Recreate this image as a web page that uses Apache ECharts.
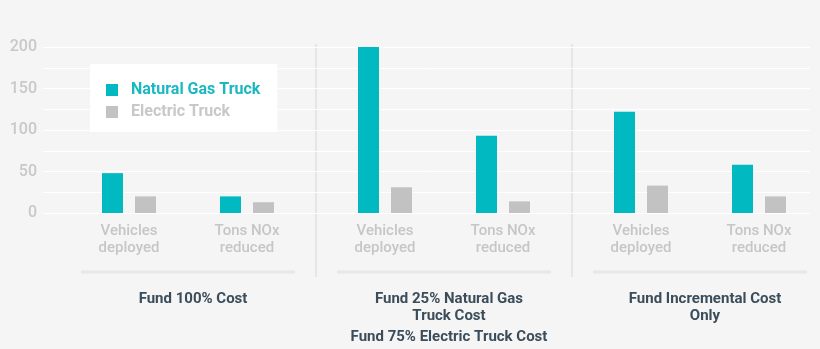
<!DOCTYPE html>
<html>
<head>
<meta charset="utf-8">
<script src="https://cdn.jsdelivr.net/npm/echarts@6/dist/echarts.min.js"></script>
<style>html,body{margin:0;padding:0;background:#f5f5f5;}#c{width:820px;height:349px;}</style>
</head>
<body>
<div id="c"></div>
<script>
var categories = ['Vehicles\ndeployed', 'Tons NOx\nreduced'];
var groupTitles = ['Fund 100% Cost', 'Fund 25% Natural Gas\nTruck Cost', 'Fund Incremental Cost\nOnly'];
var groupSubtitles = ['', 'Fund 75% Electric Truck Cost', ''];
var seriesNames = ['Natural Gas Truck', 'Electric Truck'];
var naturalGas = [[48, 20], [200, 93], [122, 58]];
var electric = [[20, 13], [31, 14], [33, 20]];
var yTicks = [0, 50, 100, 150, 200];

var FONT = 'Roboto, "Noto Sans", sans-serif';
var TEAL = '#00b9c1', GREY = '#c2c2c2';
var gridTop = 47, gridBottom = 136;
var groupLefts = [70, 326, 582], groupW = 236;

var grids = [{left: 43, right: 10, top: gridTop, bottom: gridBottom}];
var xAxes = [{gridIndex: 0, type: 'category', data: ['a'], show: false}];
var yAxes = [{
  gridIndex: 0, type: 'value', min: 0, max: 200, interval: 25,
  axisLine: {show: false}, axisTick: {show: false},
  splitLine: {lineStyle: {color: '#ffffff', width: 1}},
  axisLabel: {
    margin: 6, color: '#c8c8c8', fontSize: 16, fontWeight: 500, fontFamily: FONT,
    formatter: function (v) { return yTicks.indexOf(v) >= 0 ? String(v) : ''; }
  }
}];
var series = [];
var titles = [];
for (var g = 0; g < 3; g++) {
  var gi = g + 1;
  grids.push({left: groupLefts[g], width: groupW, top: gridTop, bottom: gridBottom});
  xAxes.push({
    gridIndex: gi, type: 'category', data: categories,
    axisLine: {show: false}, axisTick: {show: false}, splitLine: {show: false},
    axisLabel: {margin: 10, color: '#c6c6c6', fontSize: 15, fontWeight: 500, lineHeight: 17, fontFamily: FONT}
  });
  yAxes.push({gridIndex: gi, type: 'value', min: 0, max: 200, interval: 25, show: false, splitLine: {show: false}});
  series.push({
    name: seriesNames[0], type: 'bar', xAxisIndex: gi, yAxisIndex: gi,
    data: naturalGas[g], barWidth: 21, barGap: '57%',
    itemStyle: {color: TEAL}
  });
  series.push({
    name: seriesNames[1], type: 'bar', xAxisIndex: gi, yAxisIndex: gi,
    data: electric[g], barWidth: 21, barGap: '57%',
    itemStyle: {color: GREY}
  });
  titles.push({
    text: groupTitles[g], subtext: groupSubtitles[g],
    left: groupLefts[g] + groupW / 2, top: 286, textAlign: 'center', itemGap: 4,
    textStyle: {color: '#3b4d5a', fontSize: 15, fontWeight: 'bold', lineHeight: 17, fontFamily: FONT},
    subtextStyle: {color: '#3b4d5a', fontSize: 15, fontWeight: 'bold', lineHeight: 17, fontFamily: FONT}
  });
}

var sepStyle = {stroke: '#e6e6e6', lineWidth: 2};
var ulStyle = {stroke: '#e8e8e8', lineWidth: 3};
var option = {
  backgroundColor: '#f5f5f5',
  animation: false,
  title: titles,
  grid: grids,
  xAxis: xAxes,
  yAxis: yAxes,
  legend: {
    left: 90, top: 64, orient: 'vertical',
    backgroundColor: '#ffffff', padding: [18, 17, 12, 16],
    itemWidth: 12, itemHeight: 12, itemGap: 6, icon: 'rect',
    data: [
      {name: seriesNames[0], textStyle: {color: '#1ab8c0'}},
      {name: seriesNames[1], textStyle: {color: '#c8c8c8'}}
    ],
    textStyle: {fontSize: 16, fontWeight: 'bold', fontFamily: FONT, padding: [0, 0, 0, 8]}
  },
  graphic: [
    {type: 'line', shape: {x1: 316, y1: 44, x2: 316, y2: 277}, style: sepStyle, silent: true},
    {type: 'line', shape: {x1: 572, y1: 44, x2: 572, y2: 277}, style: sepStyle, silent: true},
    {type: 'line', shape: {x1: 81, y1: 272, x2: 295, y2: 272}, style: ulStyle, silent: true},
    {type: 'line', shape: {x1: 337, y1: 272, x2: 551, y2: 272}, style: ulStyle, silent: true},
    {type: 'line', shape: {x1: 593, y1: 272, x2: 807, y2: 272}, style: ulStyle, silent: true}
  ],
  series: series
};
var chart = echarts.init(document.getElementById('c'), null, {renderer: 'canvas'});
chart.setOption(option);
</script>
</body>
</html>
